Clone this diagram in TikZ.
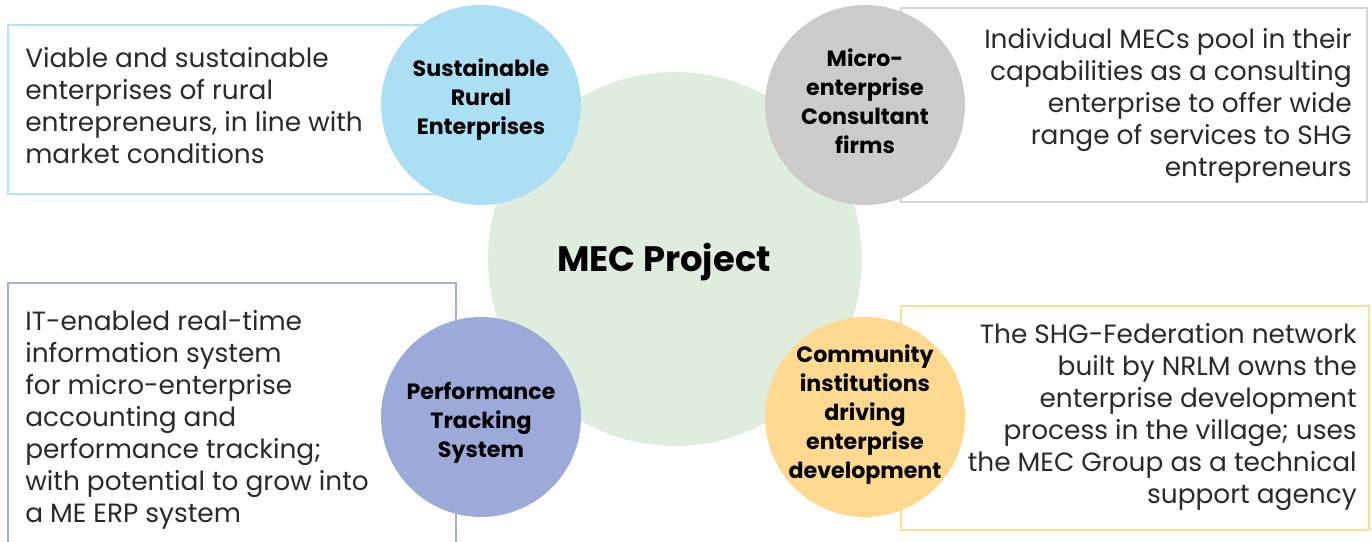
\documentclass[tikz,border=0pt]{standalone}
\usepackage{fontspec}
\setmainfont{Poppins}
\definecolor{bggreen}{HTML}{DFEDDE}
\definecolor{cblue}{HTML}{ABDFF3}
\definecolor{cgrey}{HTML}{CDCBC9}
\definecolor{cpurple}{HTML}{9DAAD9}
\definecolor{cyellow}{HTML}{FFD98F}
\definecolor{bblue}{HTML}{B3E2F5}
\definecolor{bgrey}{HTML}{D5D5D5}
\definecolor{bpurple}{HTML}{A3AFDC}
\definecolor{byellow}{HTML}{FFDE9C}
\definecolor{bodytext}{HTML}{2A2A2A}
\begin{document}
\begin{tikzpicture}[x=0.75pt,y=-0.75pt,
  box/.style={draw, line width=2pt, fill=white, rectangle, inner sep=0pt},
  disc/.style={circle, inner sep=0pt, minimum size=150pt, align=center,
    font=\fontsize{16.6}{21.75}\selectfont\bfseries, text=black},
  body/.style={font=\fontsize{19.8}{24}\selectfont, text=bodytext, inner sep=0pt}]
\clip (0,0) rectangle (1372,542);
\fill[white] (0,0) rectangle (1372,542);
% central circle
\node[circle, fill=bggreen, minimum size=280.5pt, inner sep=0pt] (mec) at (675,259) {};
\node[font=\fontsize{26.5}{30}\selectfont\bfseries, text=black] (mect) at (664,262) {MEC Project};
% boxes
\node[box, draw=bblue, minimum width=346.5pt, minimum height=126.75pt] (tlbox) at (239,109.5) {};
\node[box, draw=bgrey, minimum width=349.5pt, minimum height=145.5pt] (trbox) at (1134,105) {};
\node[box, draw=bpurple, minimum width=336pt, minimum height=207.75pt] (blbox) at (232,421.5) {};
\node[box, draw=byellow, minimum width=351pt, minimum height=168pt] (brbox) at (1135,418) {};
% box texts
\node[body, anchor=west, align=left] (tlt) at (25,106) {Viable and sustainable\\enterprises of rural\\entrepreneurs, in line with\\market conditions};
\node[body, anchor=east, align=right] (trt) at (1352,106) {Individual MECs pool in their\\capabilities as a consulting\\enterprise to offer wide\\range of services to SHG\\entrepreneurs};
\node[body, anchor=west, align=left] (blt) at (25,420) {IT-enabled real-time\\information system\\for micro-enterprise\\accounting and\\performance tracking;\\with potential to grow into\\a ME ERP system};
\node[body, anchor=east, align=right] (brt) at (1357,417) {The SHG-Federation network\\built by NRLM owns the\\enterprise development\\process in the village; uses\\the MEC Group as a technical\\support agency};
% small circles
\node[disc, fill=cblue] (sre) at (481,105) {};
\node[disc, fill=cgrey] (mcf) at (865,105) {};
\node[disc, fill=cpurple] (pts) at (481,417) {};
\node[disc, fill=cyellow] (cid) at (865,417) {};
\node[disc] (sret) at (481,100) {Sustainable\\Rural\\Enterprises};
\node[disc] (mcft) at (865,101) {Micro-\\enterprise\\Consultant\\firms};
\node[disc] (ptst) at (481,423) {Performance\\Tracking\\System};
\node[disc] (cidt) at (865,415) {Community\\institutions\\driving\\enterprise\\development};
\end{tikzpicture}
\end{document}
